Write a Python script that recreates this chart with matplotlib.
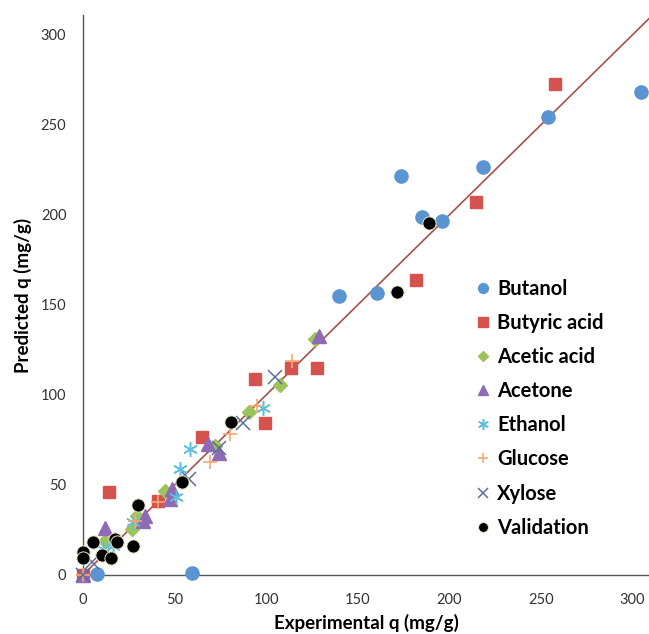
import matplotlib
matplotlib.use("Agg")
import matplotlib.pyplot as plt

plt.rcParams['font.family'] = ['Lato', 'DejaVu Sans']

# Experimental vs predicted adsorption capacity, q (mg/g)
butanol_x = [7.5, 59.4, 140, 160.5, 173.6, 185.2, 196, 218.4, 253.6, 304.4]
butanol_y = [0.5, 0.9, 154.7, 156.6, 221.6, 198.9, 196.8, 226.8, 254.3, 268.1]

butyric_x = [0, 14, 41, 64.8, 94, 99.5, 113.7, 127.7, 182, 214.8, 257.9]
butyric_y = [0, 46.2, 41, 76.7, 109, 84.6, 115, 115, 164, 207.2, 272.6]

acetic_x = [12, 26.6, 29.3, 44.8, 72, 90.5, 107.3, 126.8]
acetic_y = [19, 25.5, 33, 46.5, 71.5, 90.5, 105.4, 131]

acetone_x = [0, 12, 32.5, 34, 47.5, 48.5, 68, 74, 129]
acetone_y = [0, 26.2, 30, 33, 42, 47.8, 72.6, 68, 133]

ethanol_x = [11, 16.6, 27.5, 50.5, 53, 58.5, 98.5]
ethanol_y = [14.4, 16, 29.2, 43.2, 58.7, 69.8, 92.9]

glucose_x = [0, 28.4, 41, 69.4, 80.3, 94.9, 114]
glucose_y = [0, 30, 40.4, 62.6, 78.1, 93.8, 118.7]

xylose_x = [0, 4.7, 58, 74, 87.6, 104.9]
xylose_y = [0, 7, 53.2, 70.7, 84.5, 109.9]

validation_x = [0, 0, 5.6, 10.2, 15.1, 17.5, 18.4, 27.5, 30.2, 54.3, 81, 171.4, 188.7]
validation_y = [12.6, 9.5, 18.1, 11.1, 9.2, 19.9, 18.3, 16.2, 39, 51.6, 84.9, 157.2, 195.4]

parity_range = [0, 310]

x_ticks = [0, 50, 100, 150, 200, 250, 300]
y_ticks = [0, 50, 100, 150, 200, 250, 300]

fig = plt.figure(figsize=(6.49, 6.34), dpi=100)
ax = fig.add_axes([83 / 649, 59 / 634, 566 / 649, 560 / 634])

ax.plot(parity_range, parity_range, color='#A9504B', lw=1.2, zorder=1)

ms = 9.5
asterisk = (6, 2, 0)
ax.plot(butanol_x, butanol_y, 'o', ms=ms, color='#5A95D2', mec='#5A95D2', label='Butanol', zorder=3, clip_on=False)
ax.plot(butyric_x, butyric_y, 's', ms=ms - 0.5, color='#D5534F', mec='#D5534F', label='Butyric acid', zorder=3, clip_on=False)
ax.plot(acetic_x, acetic_y, 'D', ms=ms - 2.5, color='#9DC35C', mec='#9DC35C', label='Acetic acid', zorder=3, clip_on=False)
ax.plot(acetone_x, acetone_y, '^', ms=ms + 0.5, color='#8D6BB5', mec='#8D6BB5', label='Acetone', zorder=3, clip_on=False)
ax.plot(ethanol_x, ethanol_y, ls='none', marker=asterisk, ms=ms + 1, mew=1.1, color='#5DBFDC', label='Ethanol', zorder=3, clip_on=False)
ax.plot(glucose_x, glucose_y, '+', ms=ms + 1, mew=1.2, color='#F7A870', label='Glucose', zorder=3, clip_on=False)
ax.plot(xylose_x, xylose_y, 'x', ms=ms, mew=1.1, color='#5C6E9E', label='Xylose', zorder=3, clip_on=False)
ax.plot(validation_x, validation_y, 'o', ms=ms, color='black', mec='#E8E6C0', mew=0.7, label='Validation', zorder=4, clip_on=False)

ax.set_xlim(0, 309)
ax.set_ylim(0, 311)
ax.set_xticks(x_ticks)
ax.set_yticks(y_ticks)
ax.tick_params(length=0, labelsize=10.5, colors='#333333')
ax.tick_params(axis='x', pad=13)
ax.tick_params(axis='y', pad=12)

for side in ('top', 'right'):
    ax.spines[side].set_visible(False)
for side in ('left', 'bottom'):
    ax.spines[side].set_color('#555555')
    ax.spines[side].set_linewidth(1.0)

ax.set_xlabel('Experimental q (mg/g)', fontsize=13.5, fontweight='bold', labelpad=5)
ax.set_ylabel('Predicted q (mg/g)', fontsize=13.5, fontweight='bold', labelpad=6)

leg = ax.legend(loc='upper left', bbox_to_anchor=(477 / 649, 1 - 279 / 634),
                bbox_transform=fig.transFigure, frameon=False,
                prop={'weight': 'bold', 'size': 14.5}, markerscale=0.75,
                handlelength=0.55, handletextpad=0.45, labelspacing=0.7,
                borderpad=0, borderaxespad=0)

fig.savefig('out.png', dpi=100)
